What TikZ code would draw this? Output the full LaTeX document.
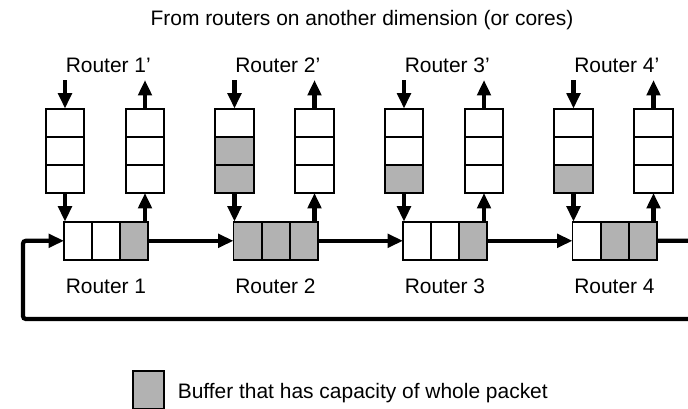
\documentclass[tikz,border=0pt]{standalone}
\usepackage{fontspec}
\setmainfont{Liberation Sans}
\usepackage{tikz}
\usetikzlibrary{arrows.meta}
\usetikzlibrary{positioning}
\usepackage{xcolor}
\definecolor{bufgray}{RGB}{178,178,178}

\begin{document}
\begin{tikzpicture}[x=0.025cm, y=-0.025cm]
    \tikzset{Flit/.style={rectangle, draw, line width=1.4pt, minimum width=20pt, minimum height=27.2pt, inner sep=0pt, outer sep=0pt}};
    \tikzset{Slot/.style={rectangle, draw, line width=1.4pt, minimum width=27.2pt, minimum height=20pt, inner sep=0pt, outer sep=0pt, fill=white}};
    \tikzset{Label/.style={inner sep=0pt, font=\fontsize{14.9pt}{17pt}\selectfont}};
    \tikzset{Link/.style={line width=3pt, -{Triangle[length=11pt, width=9.5pt]}}};

    \useasboundingbox (0,0) rectangle (688,408);
    \clip (0,0) rectangle (688,408);

    \node[Label, anchor=base west] (title) at (150.3,25) {From routers on another dimension (or cores)};

    % one router: 3-slot buffer, input queue on the left, output queue on the right
    \foreach \i/\x/\ba/\bb/\bc/\qa/\qb/\qc in {
        1/64/white/white/bufgray/white/white/white,
        2/233.5/bufgray/bufgray/bufgray/white/bufgray/bufgray,
        3/403/white/white/bufgray/white/white/bufgray,
        4/572.5/white/bufgray/bufgray/white/white/bufgray}
    {
        \node[Flit, fill=\ba, anchor=west] (r\i-a) at (\x,240.8) {};
        \node[Flit, fill=\bb, right=0pt of r\i-a] (r\i-b) {};
        \node[Flit, fill=\bc, right=0pt of r\i-b] (r\i-c) {};

        \node[Slot, fill=\qc] (i\i-c) at (\x+1,178.9) {};
        \node[Slot, fill=\qb, above=0pt of i\i-c] (i\i-b) {};
        \node[Slot, fill=\qa, above=0pt of i\i-b] (i\i-a) {};

        \node[Slot] (o\i-c) at (\x+81,178.9) {};
        \node[Slot, above=0pt of o\i-c] (o\i-b) {};
        \node[Slot, above=0pt of o\i-b] (o\i-a) {};

        \coordinate (in\i) at (\x+1,80);
        \coordinate (out\i) at (\x+81,80);
        \draw[Link] (in\i) -- (i\i-a);
        \draw[Link] (i\i-c) -- (i\i-c |- r\i-a.north);
        \draw[Link] (o\i-c |- r\i-c.north) -- (o\i-c);
        \draw[Link] (o\i-a) -- (out\i);

        \node[Label, anchor=base west] (up\i) at (\x+1.5,72) {Router \i'};
        \node[Label, anchor=base west] (name\i) at (\x+1.5,293) {Router \i};
    }

    % ring between the routers
    \draw[Link] (r1-c) -- (r2-a);
    \draw[Link] (r2-c) -- (r3-a);
    \draw[Link] (r3-c) -- (r4-a);
    \coordinate (ringR) at (700,319);
    \coordinate (ringL) at (23,319);
    \draw[Link, rounded corners=2pt] (r4-c) -| (ringR) -- (ringL) |- (r1-a);

    % legend
    \node[Flit, fill=bufgray, minimum width=22pt] (key) at (148.5,390) {};
    \node[Label, anchor=base west] (keytext) at (177.5,398) {Buffer that has capacity of whole packet};
\end{tikzpicture}
\end{document}
